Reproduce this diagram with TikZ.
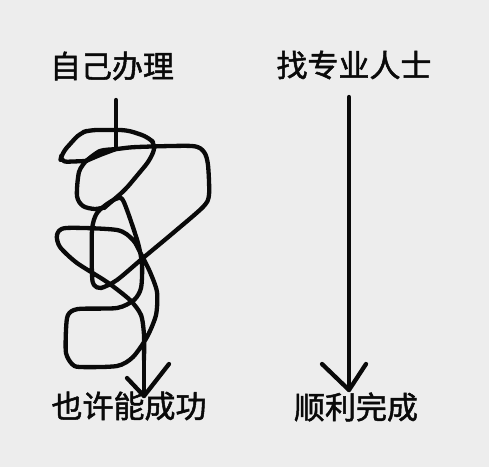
\documentclass[tikz,border=0pt]{standalone}
\usepackage{fontspec}
\newfontfamily\cjk[FakeBold=1.6]{Noto Sans CJK SC}
\definecolor{bg}{HTML}{EDEDED}
\definecolor{ink}{HTML}{0A0A0A}
\begin{document}
\begin{tikzpicture}[x=1pt,y=-1pt,
  lbl/.style={font=\cjk\fontsize{31}{31}\selectfont, text=ink, inner sep=0pt, anchor=center},
  pen/.style={draw=ink, line width=4.3pt, line cap=round, line join=round}]
\fill[bg] (0,0) rectangle (489,467);
\useasboundingbox (0,0) rectangle (489,467);
% labels
\node[lbl] (selfT) at (112,66) {自己办理};
\node[lbl] (proT) at (354,65) {找专业人士};
\node[lbl] (selfB) at (129,406) {也许能成功};
\node[lbl] (proB) at (356,407) {顺利完成};
% right straight arrow
\coordinate (rtop) at (349,97);
\coordinate (rtip) at (349,390);
\draw[pen] (rtop) -- (rtip);
\draw[pen] (322,364) -- (rtip) -- (366,364);
% left scribble
\draw[pen] (116,100) -- (116,148);
% hat
\draw[pen, rounded corners=7pt] (86,161) -- (60,162) -- (62,153) -- (80,133) -- (90,130) -- (127,130) -- (148,137) -- (156,145) -- (150,160) -- (125,190) -- (104,208);
% lens lower arc
\draw[pen] plot[smooth, tension=0.6] coordinates {(86,161) (100,155) (116,149)};
% middle-left loop
\draw[pen] plot[smooth, tension=0.5] coordinates {(86,161) (79,172) (77,196) (83,206) (95,209) (105,207)};
% main long stroke
\draw[pen] plot[smooth, tension=0.45] coordinates {
 (86,161) (100,151) (117,149) (137,147) (192,146) (204,152) (208,165) (209,195) (203,207)
 (173,233) (143,258) (117,280) (101,288) (94,285) (92,275) (92,230) (97,213) (110,202) (121,198)
 (127,210) (138,243) (142,265) (141,288) (134,300) (117,308) (78,309) (68,315) (66,330) (66,353) (72,364) (80,367) (117,366) (133,357)
 (147,337) (156,315) (157,292) (150,272) (141,254) (133,240) (117,230) (66,228) (57,235) (60,247) (77,263)
 (107,282) (130,300) (141,315) (144,335) (144,360)};
\coordinate (ltip) at (144,396);
\draw[pen] (144,355) -- (ltip);
\draw[pen] (127,378) -- (ltip) -- (169,364);
\end{tikzpicture}
\end{document}
